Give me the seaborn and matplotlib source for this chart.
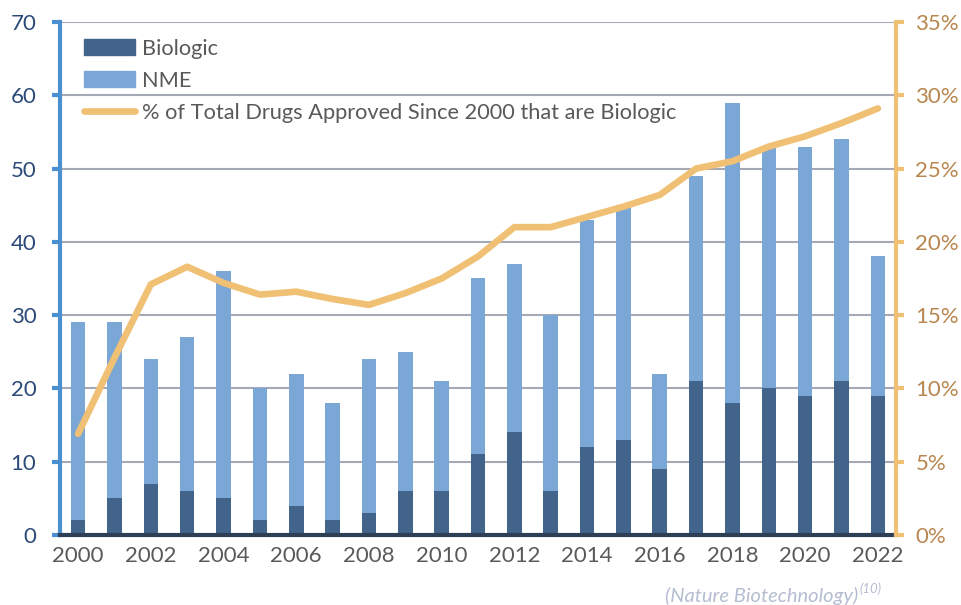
import numpy as np
import pandas as pd
import seaborn as sns
import matplotlib.pyplot as plt
from matplotlib.patches import Patch
from matplotlib.lines import Line2D
from matplotlib.ticker import FuncFormatter

# values
years = list(range(2000, 2023))
total_approved = [29, 29, 24, 27, 36, 20, 22, 18, 24, 25, 21, 35, 37, 30, 43, 45, 22, 49, 59, 53, 53, 54, 38]
biologic = [2, 5, 7, 6, 5, 2, 4, 2, 3, 6, 6, 11, 14, 6, 12, 13, 9, 21, 18, 20, 19, 21, 19]
pct_biologic = [6.9, 12.1, 17.1, 18.3, 17.2, 16.4, 16.6, 16.1, 15.7, 16.5, 17.5, 19.0, 21.0,
                21.0, 21.7, 22.4, 23.2, 25.0, 25.5, 26.5, 27.2, 28.1, 29.1]

df = pd.DataFrame({"year": years, "total": total_approved, "biologic": biologic, "pct": pct_biologic})

dark_blue = "#42648a"
light_blue = "#7ba7d7"
orange = "#f0c075"

sns.set_theme(style="white")
plt.rcParams["font.family"] = ["Lato", "DejaVu Sans"]

fig = plt.figure(figsize=(9.61, 6.05), dpi=100)
ax = fig.add_axes([0.0624, 0.1157, 0.870, 0.848])

# light bar = total (NME on top of biologic), dark bar = biologic
sns.barplot(data=df, x="year", y="total", color=light_blue, width=0.4, native_scale=True,
            linewidth=0, saturation=1, ax=ax)
sns.barplot(data=df, x="year", y="biologic", color=dark_blue, width=0.4, native_scale=True,
            linewidth=0, saturation=1, ax=ax)

ax.set_xlim(1999.5, 2022.5)
ax.set_ylim(0, 70)
ax.set_yticks(range(0, 71, 10))
ax.set_xticks(range(2000, 2023, 2))
ax.set_xlabel("")
ax.set_ylabel("")
ax.set_axisbelow(True)
ax.yaxis.grid(True, color="#a5a9b5", linewidth=1.5)
ax.xaxis.grid(False)
ax.tick_params(axis="x", length=0, pad=8, labelsize=16, labelcolor="#595959")
ax.tick_params(axis="y", length=6, width=3, color="#4a90d0", direction="out", pad=11,
               labelsize=16, labelcolor="#2b4a78", left=True)
for s in ["top", "right"]:
    ax.spines[s].set_visible(False)
ax.spines["left"].set_color("#4a90d0")
ax.spines["left"].set_linewidth(3)
ax.spines["bottom"].set_color("#2d3e55")
ax.spines["bottom"].set_linewidth(3)

# cumulative share of biologics on the secondary axis
ax2 = ax.twinx()
sns.lineplot(data=df, x="year", y="pct", color=orange, linewidth=4.8, ax=ax2)
ax2.lines[0].set_solid_capstyle("round")
ax2.set_ylim(0, 35)
ax2.set_yticks(range(0, 36, 5))
ax2.yaxis.set_major_formatter(FuncFormatter(lambda v, p: f"{int(v)}%"))
ax2.set_ylabel("")
ax2.set_xlabel("")
ax2.tick_params(axis="y", length=6, width=3, color=orange, direction="out", pad=8,
                labelsize=16, labelcolor="#b8864e", right=True)
for s in ["top", "left", "bottom"]:
    ax2.spines[s].set_visible(False)
ax2.spines["right"].set_color(orange)
ax2.spines["right"].set_linewidth(3)
ax2.grid(False)

handles = [
    Patch(color=dark_blue, label="Biologic"),
    Patch(color=light_blue, label="NME"),
    Line2D([0], [0], color=orange, linewidth=4.8, solid_capstyle="round",
           label="% of Total Drugs Approved Since 2000 that are Biologic"),
]
leg = ax2.legend(handles=handles, loc="upper left", bbox_to_anchor=(0.018, 0.984), frameon=False,
                 fontsize=15.7, handlelength=2.35, handleheight=0.75, handletextpad=0.3,
                 labelspacing=0.55, borderaxespad=0)
for t in leg.get_texts():
    t.set_color("#595959")

fig.text(858 / 961, 1 - 596 / 605, "(Nature Biotechnology)", ha="right", va="center",
         fontsize=14.5, style="italic", color="#b4bdd1")
fig.text(859 / 961, 1 - 589 / 605, "(10)", ha="left", va="center",
         fontsize=9.5, style="italic", color="#b4bdd1")

fig.savefig("out.png", dpi=100)
